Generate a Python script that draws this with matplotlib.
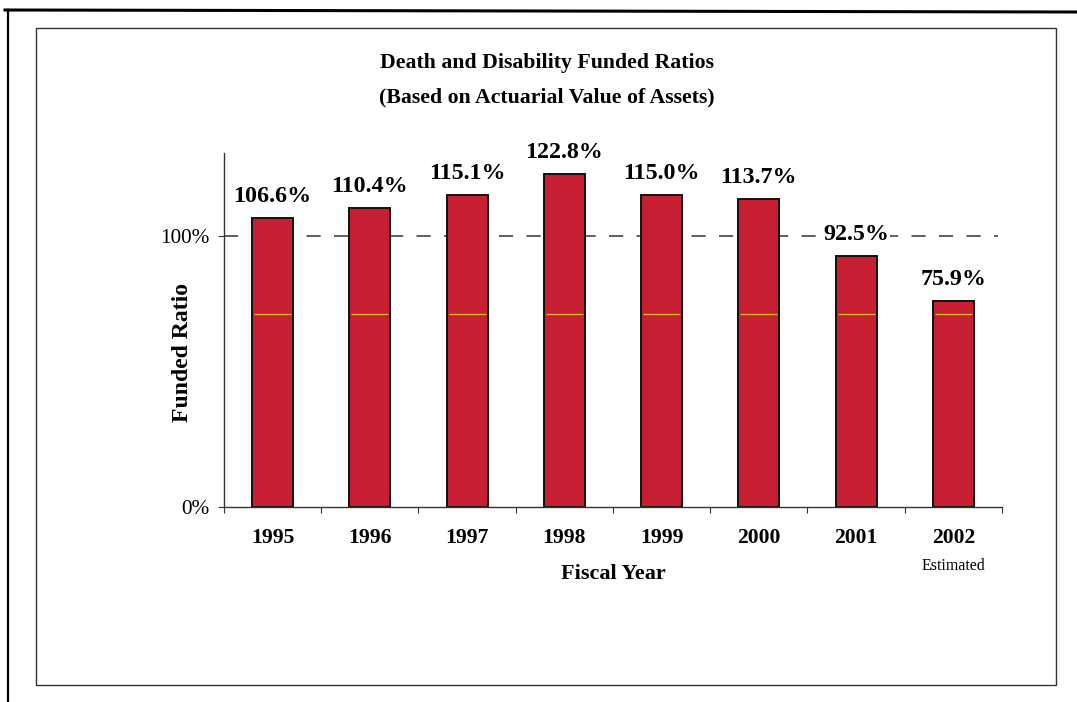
import numpy as np
import matplotlib.pyplot as plt
from matplotlib.lines import Line2D
from matplotlib.patches import Rectangle

plt.rcParams['font.family'] = ['Liberation Serif', 'DejaVu Serif']

## data
years = ['1995', '1996', '1997', '1998', '1999', '2000', '2001', '2002']
ratios = [106.6, 110.4, 115.1, 122.8, 115.0, 113.7, 92.5, 75.9]
value_labels = ['106.6%', '110.4%', '115.1%', '122.8%', '115.0%', '113.7%', '92.5%', '75.9%']
ytick_vals = [0, 100]
ytick_labels = ['0%', '100%']
target = 100
yellow_level = 71.2   # thin yellow line seen across every bar

fig = plt.figure(figsize=(10.77, 7.02), dpi=100)
W, H = 1077, 702

# outer frame (top + left) and inner box, in figure pixels
fig.add_artist(Line2D([5/W, 1.0], [1 - 10/H, 1 - 12/H], color='black', lw=2.2, transform=fig.transFigure))
fig.add_artist(Line2D([8/W, 8/W], [1 - 10/H, 0.0], color='black', lw=1.6, transform=fig.transFigure))
fig.add_artist(Rectangle((36/W, 1 - 685/H), (1056 - 36)/W, (685 - 28)/H, fill=False,
                         ec='#333333', lw=1.0, transform=fig.transFigure))

ax = fig.add_axes([224/W, 1 - 507/H, (1002 - 224)/W, (507 - 153)/H])
x = np.arange(len(years))
bw = 0.42

ax.axhline(target, xmin=0, xmax=0.995, color='#444444', lw=1.2, dashes=(8.5, 8), zorder=1)
bars = ax.bar(x, ratios, width=bw, color='#c81e32', edgecolor='#111111', linewidth=1.4, zorder=2)
ax.hlines([yellow_level] * len(x), x - bw/2 + 0.02, x + bw/2 - 0.02, color='#d8c020', lw=0.9, zorder=3)

for xi, v, lab in zip(x, ratios, value_labels):
    ax.annotate(lab, (xi, v), xytext=(0, 15.5), textcoords='offset points', ha='center', va='center',
                fontsize=17.3, fontweight='bold', annotation_clip=False,
                bbox=dict(facecolor='white', edgecolor='none', pad=0.5))

ax.set_xlim(-0.5, 7.5)
ax.set_ylim(0, 130.6)
ax.set_xticks(np.arange(-0.5, 8, 1))
ax.set_xticklabels([])
ax.set_xticks(x, minor=True)
ax.set_xticklabels(years, minor=True, fontsize=15.6, fontweight='bold')
ax.tick_params(axis='x', which='minor', length=0, pad=15)
ax.tick_params(axis='x', which='major', length=4.3, direction='out', color='#333333')
ax.set_yticks(ytick_vals)
ax.set_yticklabels(ytick_labels, fontsize=15.3)
ax.tick_params(axis='y', length=4.3, pad=5.8, color='#333333')

for s in ['top', 'right']:
    ax.spines[s].set_visible(False)
for s in ['left', 'bottom']:
    ax.spines[s].set_color('#333333')
    ax.spines[s].set_linewidth(1.0)

ax.text(7, -21.8, 'Estimated', ha='center', va='center', fontsize=11.5, transform=ax.transData)
ax.text(0.5, -0.19, 'Fiscal Year', ha='center', va='center', fontsize=16, fontweight='bold',
        transform=ax.transAxes)

fig.text(183/W, 1 - 353/H, 'Funded Ratio', rotation=90, ha='center', va='center',
         fontsize=17, fontweight='bold')
fig.text(547/W, 1 - 63/H, 'Death and Disability Funded Ratios', ha='center', va='center',
         fontsize=15.7, fontweight='bold')
fig.text(547/W, 1 - 97/H, '(Based on Actuarial Value of Assets)', ha='center', va='center',
         fontsize=15.7, fontweight='bold')

plt.savefig('out.png', dpi=100)
